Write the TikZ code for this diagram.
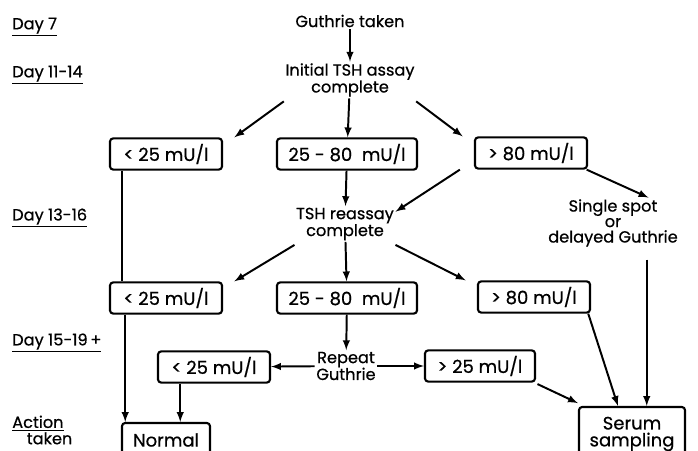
\documentclass[tikz,border=0pt]{standalone}
\usepackage{fontspec}
\setmainfont{Poppins}[FakeBold=0.6]
\usetikzlibrary{arrows, positioning}
\tikzstyle{boxNode} = [rectangle, minimum width=2.8cm, minimum height=0.78cm, align=center, rounded corners=0.08cm, draw=black, line width=1.5pt, inner sep=1pt, font=\fontsize{12.8}{12}\selectfont]
\tikzstyle{txtNode} = [align=center, inner sep=1pt]
\tikzstyle{dayNode} = [anchor=west, inner sep=0pt]
\tikzstyle{arrow} = [line width=1.4pt,->,>=latex,draw=black]
\tikzstyle{line} = [line width=1.4pt,draw=black]

\begin{document}
\begin{tikzpicture}[x=0.025cm, y=-0.025cm, font=\fontsize{11.5}{12}\selectfont]
        \useasboundingbox (0,0) rectangle (698,451);
        \clip (0,0) rectangle (698,451);
        % days down the left
        \node (d7) [dayNode] at (12,27) {\underline{Day 7}};
        \node (d11) [dayNode] at (12,75) {\underline{Day 11-14}};
        \node (d13) [dayNode] at (12,218) {\underline{Day 13-16}};
        \node (d15) [dayNode] at (12,343) {\underline{Day 15-19\,+}};
        \node (act) [dayNode, align=left, font=\fontsize{11.5}{10.5}\selectfont] at (12,430) {\underline{Action}\\\hspace{0.9em}taken};

        \node (guthrie) [txtNode] at (350,21) {Guthrie taken};
        \node (assay) [txtNode] at (350,80) {Initial TSH assay\\complete};
        \node (lowA) [boxNode] at (166,154) {< 25 mU/l};
        \node (midA) [boxNode, minimum width=3.5cm] at (347,154) {25 - 80 \ mU/l};
        \node (highA) [boxNode] at (531,153) {> 80 mU/l};
        \node (reassay) [txtNode] at (345,224) {TSH reassay\\complete};
        \node (spot) [txtNode, font=\fontsize{11.5}{11}\selectfont] at (613,223) {Single spot\\or\\delayed Guthrie};
        \node (lowB) [boxNode] at (166,298) {< 25 mU/l};
        \node (midB) [boxNode, minimum width=3.5cm] at (347,298) {25 - 80 \ mU/l};
        \node (highB) [boxNode] at (534,297) {> 80 mU/l};
        \node (repeat) [txtNode] at (346,366) {Repeat\\Guthrie};
        \node (lowC) [boxNode] at (214,367) {< 25 mU/l};
        \node (highC) [boxNode, minimum width=2.75cm] at (480,366) {> 25 mU/l};
        \node (normal) [boxNode, minimum width=2.2cm, minimum height=0.85cm] at (166,440) {Normal};
        \node (serum) [boxNode, minimum width=2.65cm, minimum height=1.35cm] at (632,434) {Serum\\sampling};

        \draw [arrow] (guthrie) -- (assay);
        \draw [arrow] (assay.south west) ++(0,3) -- ([xshift=8pt]lowA.north east);
        \draw [arrow] (assay) -- (midA);
        \draw [arrow] (assay.south east) ++(0,3) -- ([xshift=-8pt]highA.north west);
        \draw [line] ([xshift=-31pt]lowA.south) -- ([xshift=-31pt]lowB.north);
        \draw [arrow] (midA) -- (reassay);
        \draw [arrow] ([xshift=-10pt]highA.south west) -- ([yshift=-4pt]reassay.north east);
        \draw [arrow] ([xshift=-1pt]highA.south east) -- ([xshift=-22pt]spot.north east);
        \draw [arrow] (reassay.south west) ++(0,3) -- ([xshift=8pt]lowB.north east);
        \draw [arrow] (reassay) -- (midB);
        \draw [arrow] (reassay.south east) ++(0,3) -- ([xshift=-8pt]highB.north west);
        \draw [arrow] ([xshift=-29pt]lowB.south) -- ([xshift=-29pt]lowB.south |- normal.north);
        \draw [arrow] (midB) -- (repeat);
        \draw [arrow] (repeat) -- (lowC);
        \draw [arrow] (repeat) -- (highC);
        \draw [arrow] ([xshift=-24pt]lowC.south) -- ([xshift=-24pt]lowC.south |- normal.north);
        \draw [arrow] ([xshift=-2pt]highB.south east) -- ([xshift=-10pt]serum.north);
        \draw [arrow] ([xshift=1pt,yshift=-1pt]highC.south east) -- ([yshift=2pt]serum.north west);
        \draw [arrow] ([xshift=24pt,yshift=-8pt]spot.south) -- ([xshift=24pt]spot.south |- serum.north);
    \end{tikzpicture}
\end{document}
